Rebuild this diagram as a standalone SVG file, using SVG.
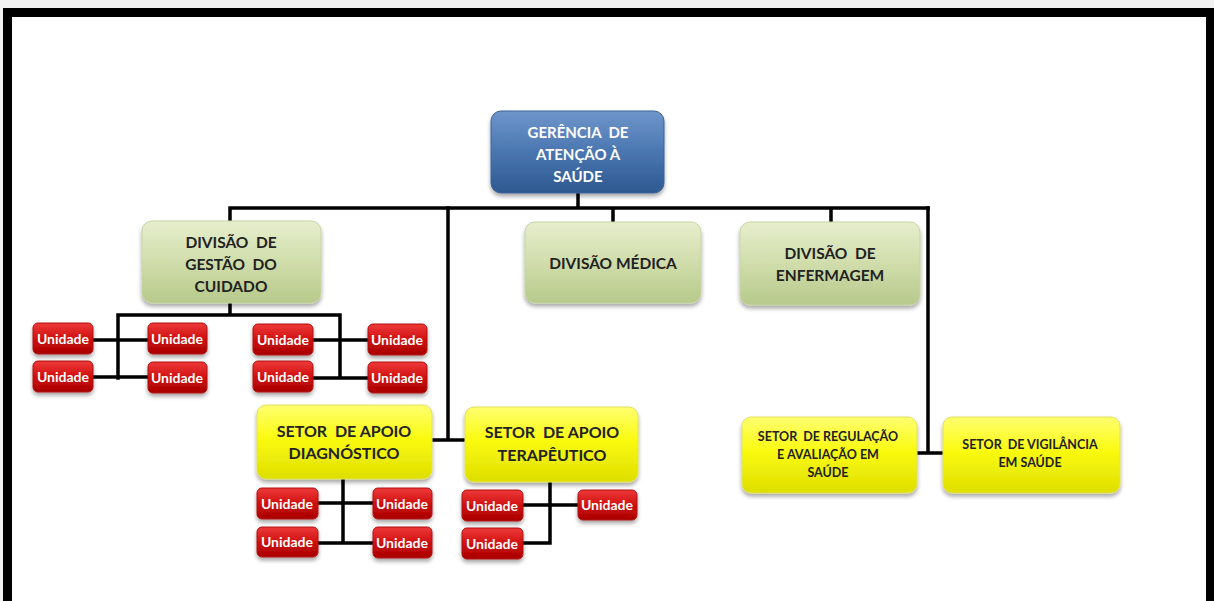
<svg xmlns="http://www.w3.org/2000/svg" width="1214" height="601" viewBox="0 0 1214 601">
<defs>
<linearGradient id="gBlue" x1="0" y1="0" x2="0" y2="1">
<stop offset="0" stop-color="#6f96cb"/><stop offset="0.5" stop-color="#4a76b0"/><stop offset="1" stop-color="#2d5890"/>
</linearGradient>
<linearGradient id="gGreen" x1="0" y1="0" x2="0" y2="1">
<stop offset="0" stop-color="#e6eecd"/><stop offset="0.5" stop-color="#d0ddab"/><stop offset="1" stop-color="#b7c98b"/>
</linearGradient>
<linearGradient id="gYellow" x1="0" y1="0" x2="0" y2="1">
<stop offset="0" stop-color="#ffff70"/><stop offset="0.45" stop-color="#fafa10"/><stop offset="1" stop-color="#dede00"/>
</linearGradient>
<linearGradient id="gRed" x1="0" y1="0" x2="0" y2="1">
<stop offset="0" stop-color="#ee3a3a"/><stop offset="0.5" stop-color="#d01010"/><stop offset="1" stop-color="#a80000"/>
</linearGradient>
<filter id="sh" x="-10%" y="-10%" width="120%" height="140%">
<feGaussianBlur in="SourceAlpha" stdDeviation="2"/>
<feOffset dx="0" dy="3" result="b"/>
<feComponentTransfer><feFuncA type="linear" slope="0.35"/></feComponentTransfer>
<feMerge><feMergeNode/><feMergeNode in="SourceGraphic"/></feMerge>
</filter>
</defs>
<style>
.blue{fill:url(#gBlue);stroke:#3c6496;stroke-width:1;filter:url(#sh)}
.green{fill:url(#gGreen);stroke:#c6d4a4;stroke-width:1;filter:url(#sh)}
.yellow{fill:url(#gYellow);stroke:#e0e060;stroke-width:1;filter:url(#sh)}
.red{fill:url(#gRed);stroke:#b01010;stroke-width:1;filter:url(#sh)}
text{font-family:Lato,"Liberation Sans",sans-serif;font-weight:bold;text-anchor:middle;white-space:pre}
.tw{fill:#ffffff;font-size:15px}
.td{fill:#222222;font-size:15.5px}
.ty{fill:#222222;font-size:16px}
.ts{fill:#222222;font-size:12.5px}
.tu{fill:#ffffff;font-size:14px}
.ln{stroke:#000;stroke-width:3.5;fill:none;stroke-linecap:square}
</style>
<rect x="0" y="0" width="1214" height="601" fill="#f2f2f2"/>
<rect x="3" y="8" width="1211" height="593" fill="#ffffff"/>
<g id="frame" fill="#000">
<rect x="3" y="8" width="1211" height="9"/>
<rect x="3" y="8" width="9" height="593"/>
<rect x="1206" y="8" width="8" height="593"/>
</g>
<g id="connectors" class="ln">
<path d="M578 193V208M230 208H928M230 208V221M613 208V222M831 208V222"/>
<path d="M448 208V440M432 440H465"/>
<path d="M928 208V453M917 453H943"/>
<path d="M230 303V315M118 315H340M118 315V378M340 315V378M93 340H148M93 377H148M313 340H368M313 378H368"/>
<path d="M343 479V543M318 503H373M318 543H373"/>
<path d="M550 482V543M523 505H578M523 543H550"/>
</g>
<g id="n-gerencia"><rect class="blue" x="491" y="111" width="173" height="82" rx="10"/>
<text class="tw" x="578" y="138" xml:space="preserve">GERÊNCIA  DE</text><text class="tw" x="578" y="160">ATENÇÃO À</text><text class="tw" x="578" y="182">SAÚDE</text></g>
<g id="n-gestao"><rect class="green" x="142" y="221" width="179" height="82" rx="10"/>
<text class="td" x="231" y="248" xml:space="preserve">DIVISÃO  DE</text><text class="td" x="231" y="270" xml:space="preserve">GESTÃO  DO</text><text class="td" x="231" y="292">CUIDADO</text></g>
<g id="n-medica"><rect class="green" x="525" y="222" width="176" height="81" rx="10"/>
<text class="td" x="613" y="269">DIVISÃO MÉDICA</text></g>
<g id="n-enfermagem"><rect class="green" x="740" y="222" width="180" height="83" rx="10"/>
<text class="td" x="830" y="259" xml:space="preserve">DIVISÃO  DE</text><text class="td" x="830" y="281">ENFERMAGEM</text></g>
<g id="n-diag"><rect class="yellow" x="257" y="405" width="175" height="74" rx="9"/>
<text class="ty" x="344" y="437" xml:space="preserve">SETOR  DE APOIO</text><text class="ty" x="344" y="459">DIAGNÓSTICO</text></g>
<g id="n-terap"><rect class="yellow" x="465" y="407" width="173" height="75" rx="9"/>
<text class="ty" x="552" y="438" xml:space="preserve">SETOR  DE APOIO</text><text class="ty" x="552" y="461">TERAPÊUTICO</text></g>
<g id="n-regulacao"><rect class="yellow" x="742" y="417" width="175" height="76" rx="9"/>
<text class="ts" x="828" y="441" xml:space="preserve">SETOR  DE REGULAÇÃO</text><text class="ts" x="828" y="459">E AVALIAÇÃO EM</text><text class="ts" x="828" y="477">SAÚDE</text></g>
<g id="n-vigilancia"><rect class="yellow" x="943" y="417" width="177" height="76" rx="9"/>
<text class="ts" x="1030" y="449" xml:space="preserve">SETOR  DE VIGILÂNCIA</text><text class="ts" x="1030" y="467">EM SAÚDE</text></g>
<g id="u1"><rect class="red" x="33" y="323" width="60" height="31" rx="5"/><text class="tu" x="63" y="344">Unidade</text></g>
<g id="u2"><rect class="red" x="148" y="323" width="59" height="31" rx="5"/><text class="tu" x="177" y="344">Unidade</text></g>
<g id="u3"><rect class="red" x="33" y="361" width="60" height="31" rx="5"/><text class="tu" x="63" y="382">Unidade</text></g>
<g id="u4"><rect class="red" x="148" y="362" width="59" height="31" rx="5"/><text class="tu" x="177" y="383">Unidade</text></g>
<g id="u5"><rect class="red" x="253" y="324" width="60" height="31" rx="5"/><text class="tu" x="283" y="345">Unidade</text></g>
<g id="u6"><rect class="red" x="368" y="324" width="59" height="31" rx="5"/><text class="tu" x="397" y="345">Unidade</text></g>
<g id="u7"><rect class="red" x="253" y="361" width="60" height="31" rx="5"/><text class="tu" x="283" y="382">Unidade</text></g>
<g id="u8"><rect class="red" x="368" y="362" width="59" height="31" rx="5"/><text class="tu" x="397" y="383">Unidade</text></g>
<g id="u9"><rect class="red" x="257" y="488" width="61" height="31" rx="5"/><text class="tu" x="287" y="509">Unidade</text></g>
<g id="u10"><rect class="red" x="373" y="488" width="59" height="31" rx="5"/><text class="tu" x="402" y="509">Unidade</text></g>
<g id="u11"><rect class="red" x="257" y="527" width="61" height="30" rx="5"/><text class="tu" x="287" y="547">Unidade</text></g>
<g id="u12"><rect class="red" x="373" y="527" width="59" height="31" rx="5"/><text class="tu" x="402" y="548">Unidade</text></g>
<g id="u13"><rect class="red" x="462" y="490" width="61" height="31" rx="5"/><text class="tu" x="492" y="511">Unidade</text></g>
<g id="u14"><rect class="red" x="578" y="490" width="59" height="30" rx="5"/><text class="tu" x="607" y="510">Unidade</text></g>
<g id="u15"><rect class="red" x="462" y="528" width="61" height="31" rx="5"/><text class="tu" x="492" y="549">Unidade</text></g>
</svg>
